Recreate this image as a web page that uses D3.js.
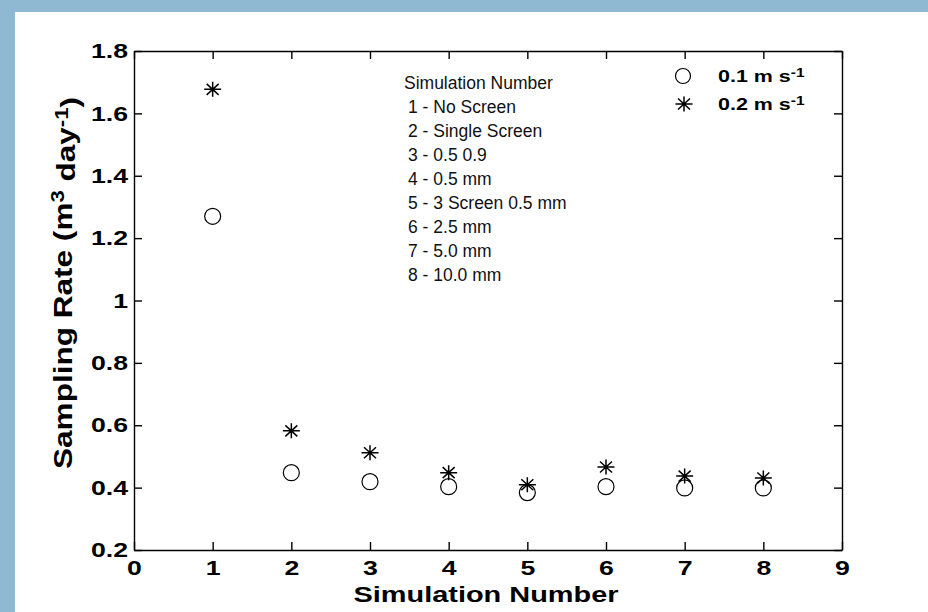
<!DOCTYPE html>
<html>
<head>
<meta charset="utf-8">
<script src="https://cdn.jsdelivr.net/npm/d3@7"></script>
<style>
  html, body { margin: 0; padding: 0; background: #ffffff; }
  svg { display: block; }
</style>
</head>
<body>
<svg id="chart" width="928" height="612"></svg>
<script>
// ---- data ----
const simNumbers = [1, 2, 3, 4, 5, 6, 7, 8];
const rate01 = [1.270, 0.448, 0.419, 0.403, 0.384, 0.403, 0.399, 0.399]; // 0.1 m s-1 (circles)
const rate02 = [1.677, 0.582, 0.512, 0.448, 0.409, 0.466, 0.437, 0.431]; // 0.2 m s-1 (stars)
const xTicks = [0, 1, 2, 3, 4, 5, 6, 7, 8, 9];
const yTicks = [0.2, 0.4, 0.6, 0.8, 1.0, 1.2, 1.4, 1.6, 1.8];
const yTickLabels = ["0.2", "0.4", "0.6", "0.8", "1", "1.2", "1.4", "1.6", "1.8"];
const seriesNames = ["0.1 m s", "0.2 m s"];
const annotationLines = [
  "Simulation Number",
  "1 - No Screen",
  "2 - Single Screen",
  "3 - 0.5 0.9",
  "4 - 0.5 mm",
  "5 - 3 Screen 0.5 mm",
  "6 - 2.5 mm",
  "7 - 5.0 mm",
  "8 - 10.0 mm"
];
const xLabel = "Simulation Number";

// ---- layout ----
const W = 928, H = 612;
const L = 134, R = 842, T = 51, B = 550;
const FONT = "'Liberation Sans', Arial, Helvetica, sans-serif";

const svg = d3.select("#chart");

// background frame strips
svg.append("rect").attr("x", 0).attr("y", 0).attr("width", W).attr("height", H).attr("fill", "#ffffff");
svg.append("rect").attr("x", 0).attr("y", 0).attr("width", W).attr("height", 12).attr("fill", "#8fb8d3");
svg.append("rect").attr("x", 0).attr("y", 0).attr("width", 15).attr("height", H).attr("fill", "#8fb8d3");

const x = d3.scaleLinear().domain([0, 9]).range([L, R]);
const y = d3.scaleLinear().domain([0.2, 1.8]).range([B, T]);

function stretch(sel, k) {
  sel.each(function () {
    const len = this.getComputedTextLength();
    this.setAttribute("textLength", len * k);
    this.setAttribute("lengthAdjust", "spacingAndGlyphs");
  });
}

// axes
const gx = svg.append("g").attr("transform", `translate(0,${B})`)
  .call(d3.axisBottom(x).tickValues(xTicks).tickFormat(d3.format("d"))
    .tickSizeInner(-8).tickSizeOuter(0).tickPadding(10));
const gy = svg.append("g").attr("transform", `translate(${L},0)`)
  .call(d3.axisLeft(y).tickValues(yTicks).tickFormat((d, i) => yTickLabels[i])
    .tickSizeInner(-8).tickSizeOuter(0).tickPadding(6));
const gxt = svg.append("g").attr("transform", `translate(0,${T})`)
  .call(d3.axisTop(x).tickValues(xTicks).tickFormat("").tickSizeInner(-8).tickSizeOuter(0));
const gyr = svg.append("g").attr("transform", `translate(${R},0)`)
  .call(d3.axisRight(y).tickValues(yTicks).tickFormat("").tickSizeInner(-8).tickSizeOuter(0));

[gx, gy, gxt, gyr].forEach(g => {
  g.select(".domain").attr("stroke", "#000").attr("stroke-width", 1.4);
  g.selectAll(".tick line").attr("stroke", "#000").attr("stroke-width", 1.4);
  g.selectAll(".tick text")
    .attr("font-family", FONT).attr("font-size", 21).attr("font-weight", "bold").attr("fill", "#000");
});
stretch(gx.selectAll(".tick text"), 1.27);
stretch(gy.selectAll(".tick text"), 1.27);

// axis titles
const xl = svg.append("text")
  .attr("x", 486).attr("y", 602)
  .attr("text-anchor", "middle")
  .attr("font-family", FONT).attr("font-size", 21.5).attr("font-weight", "bold").attr("fill", "#000")
  .text(xLabel);
xl.attr("textLength", 265).attr("lengthAdjust", "spacingAndGlyphs");

const yl = svg.append("text")
  .attr("transform", `translate(72,283) rotate(-90)`)
  .attr("text-anchor", "middle")
  .attr("font-family", FONT).attr("font-size", 25).attr("font-weight", "bold").attr("fill", "#000");
yl.append("tspan").text("Sampling Rate (m");
yl.append("tspan").attr("dy", "-0.45em").attr("font-size", "70%").text("3");
yl.append("tspan").attr("dy", "0.45em").text(" day");
yl.append("tspan").attr("dy", "-0.45em").attr("font-size", "70%").text("-1");
yl.append("tspan").attr("dy", "0.45em").text(")");
yl.attr("textLength", 372).attr("lengthAdjust", "spacingAndGlyphs");

// annotation list
const ann = svg.append("g");
ann.selectAll("text").data(annotationLines).join("text")
  .attr("x", (d, i) => i === 0 ? 404 : 408)
  .attr("y", (d, i) => 89 + i * 24)
  .attr("font-family", FONT).attr("font-size", 17.5).attr("fill", "#111")
  .text(d => d);

// markers
const starPath = "M-8.5,0H8.5M0,-7.5V7.5M-6,-5.5L6,5.5M-6,5.5L6,-5.5";

svg.append("g").selectAll("circle").data(simNumbers).join("circle")
  .attr("cx", d => x(d))
  .attr("cy", (d, i) => y(rate01[i]))
  .attr("r", 8)
  .attr("fill", "none").attr("stroke", "#000").attr("stroke-width", 1.2);

svg.append("g").selectAll("path").data(simNumbers).join("path")
  .attr("transform", (d, i) => `translate(${x(d)},${y(rate02[i])})`)
  .attr("d", starPath)
  .attr("fill", "none").attr("stroke", "#000").attr("stroke-width", 1.5);

// legend
const leg = svg.append("g");
leg.append("circle").attr("cx", 683).attr("cy", 76).attr("r", 7.5)
  .attr("fill", "none").attr("stroke", "#000").attr("stroke-width", 1.2);
leg.append("path").attr("transform", "translate(684,104)").attr("d", starPath)
  .attr("fill", "none").attr("stroke", "#000").attr("stroke-width", 1.5);
const legTexts = leg.selectAll("text.lg").data(seriesNames).join("text")
  .attr("class", "lg")
  .attr("x", 718).attr("y", (d, i) => 82 + i * 28)
  .attr("font-family", FONT).attr("font-size", 16.5).attr("font-weight", "bold").attr("fill", "#000");
legTexts.append("tspan").text(d => d);
legTexts.append("tspan").attr("dy", "-0.45em").attr("font-size", "72%").text("-1");
stretch(legTexts, 1.3);
</script>
</body>
</html>
